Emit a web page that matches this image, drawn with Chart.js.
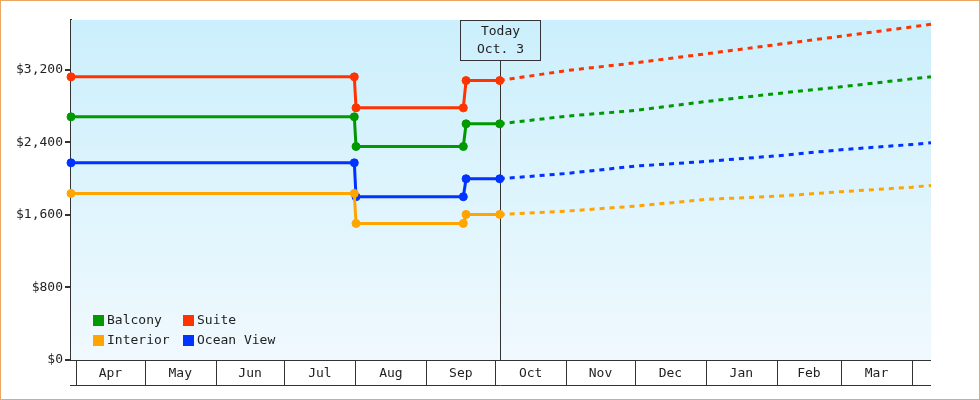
<!DOCTYPE html>
<html>
<head>
<meta charset="utf-8">
<script src="https://cdn.jsdelivr.net/npm/chart.js@4/dist/chart.umd.min.js"></script>
<style>
  body { margin: 0; background: #fff; }
  canvas { display: block; }
</style>
</head>
<body>
<canvas id="myChart" width="980" height="400"></canvas>
<script>
var monthLabels = ['Apr','May','Jun','Jul','Aug','Sep','Oct','Nov','Dec','Jan','Feb','Mar'];
var monthStarts = [0,30,61,91,122,153,183,214,244,275,306,334,365];
var xMin = -2.2, xMax = 373.3;
var yTicks = [0,800,1600,2400,3200];
var yMax = 3750;
var todayDay = 185;
var todayLabel = ['Today','Oct. 3'];

var seriesNames = ['Balcony','Suite','Interior','Ocean View'];
var seriesColors = ['#009900','#ff3300','#ffa500','#0033ff'];

var pastDays = [-2.2,121.5,122.25,169.1,170.3,185];
var balconyPast = [2682,2682,2355,2355,2605,2605];
var suitePast = [3123,3123,2781,2781,3082,3082];
var interiorPast = [1837,1837,1506,1506,1606,1606];
var oceanPast = [2175,2175,1801,1801,1999,1999];

var futureDays = [185,214,244,275,306,334,365,373.3];
var balconyFuture = [2605,2689,2752,2851,2939,3013,3101,3123];
var suiteFuture = [3082,3192,3277,3377,3479,3571,3674,3703];
var interiorFuture = [1606,1642,1697,1771,1807,1856,1906,1925];
var oceanFuture = [1999,2057,2138,2190,2252,2319,2377,2396];

var FONT = '13px "DejaVu Sans Mono", monospace';

function toPoints(days, values){
  var pts = [];
  for (var i = 0; i < days.length; i++) pts.push({x: days[i], y: values[i]});
  return pts;
}

function pastSet(name, color, values){
  return {
    label: name, data: toPoints(pastDays, values),
    borderColor: color, backgroundColor: color, borderWidth: 3,
    pointRadius: 4, pointBorderWidth: 1, pointHoverRadius: 4,
    tension: 0, clip: 6
  };
}

function futureSet(name, color, values){
  return {
    label: name + ' (projected)', data: toPoints(futureDays, values),
    borderColor: color, backgroundColor: color, borderWidth: 3,
    borderDash: [5,5], pointRadius: 0, tension: 0, clip: 6
  };
}

var decor = {
  id: 'decor',
  beforeDatasetsDraw: function(chart){
    var ctx = chart.ctx, a = chart.chartArea;
    var g = ctx.createLinearGradient(0, a.top, 0, a.bottom);
    g.addColorStop(0, '#cbeffc');
    g.addColorStop(1, '#f0f9fe');
    ctx.save();
    ctx.fillStyle = g;
    ctx.fillRect(a.left, a.top, a.right - a.left, a.bottom - a.top);

    // month row under the plot
    var xs = chart.scales.x;
    ctx.strokeStyle = '#333';
    ctx.lineWidth = 1;
    ctx.beginPath();
    ctx.moveTo(a.left, a.bottom + 0.5); ctx.lineTo(a.right, a.bottom + 0.5);
    ctx.moveTo(a.left - 1, a.bottom + 25.5); ctx.lineTo(a.right, a.bottom + 25.5);
    for (var i = 0; i < monthStarts.length; i++) {
      var px = Math.round(xs.getPixelForValue(monthStarts[i])) + 0.5;
      ctx.moveTo(px, a.bottom); ctx.lineTo(px, a.bottom + 25);
    }
    ctx.stroke();
    ctx.fillStyle = '#222';
    ctx.font = FONT;
    ctx.textAlign = 'center';
    ctx.textBaseline = 'middle';
    for (var j = 0; j < monthLabels.length; j++) {
      var mid = (xs.getPixelForValue(monthStarts[j]) + xs.getPixelForValue(monthStarts[j+1])) / 2;
      ctx.fillText(monthLabels[j], mid, a.bottom + 13.5);
    }

    // today marker
    var tx = Math.round(xs.getPixelForValue(todayDay)) + 0.5;
    ctx.beginPath();
    ctx.moveTo(tx, a.top + 40); ctx.lineTo(tx, a.bottom);
    ctx.stroke();
    ctx.strokeRect(tx - 40, a.top + 0.5, 80, 40);
    ctx.fillText(todayLabel[0], tx, a.top + 12);
    ctx.fillText(todayLabel[1], tx, a.top + 30);
    ctx.restore();
  },
  afterDraw: function(chart){
    var ctx = chart.ctx, a = chart.chartArea;
    ctx.save();
    // legend, two columns
    ctx.font = FONT;
    ctx.textAlign = 'left';
    ctx.textBaseline = 'middle';
    for (var i = 0; i < seriesNames.length; i++) {
      var col = i % 2, row = Math.floor(i / 2);
      var lx = a.left + 22 + col * 90;
      var ly = a.bottom - 45 + row * 20;
      ctx.fillStyle = seriesColors[i];
      ctx.fillRect(lx, ly, 11, 11);
      ctx.fillStyle = '#222';
      ctx.fillText(seriesNames[i], lx + 14, ly + 6);
    }
    ctx.strokeStyle = '#e9a864';
    ctx.lineWidth = 1;
    ctx.strokeRect(0.5, 0.5, chart.width - 1, chart.height - 1);
    ctx.restore();
  }
};

var ctx = document.getElementById('myChart').getContext('2d');
var chart = new Chart(ctx, {
  type: 'line',
  data: {
    datasets: [
      futureSet('Interior', seriesColors[2], interiorFuture),
      futureSet('Ocean View', seriesColors[3], oceanFuture),
      futureSet('Balcony', seriesColors[0], balconyFuture),
      futureSet('Suite', seriesColors[1], suiteFuture),
      pastSet('Interior', seriesColors[2], interiorPast),
      pastSet('Ocean View', seriesColors[3], oceanPast),
      pastSet('Balcony', seriesColors[0], balconyPast),
      pastSet('Suite', seriesColors[1], suitePast)
    ]
  },
  options: {
    responsive: false,
    animation: false,
    layout: { padding: { top: 20, right: 49, bottom: 40, left: 0 } },
    plugins: { legend: { display: false }, tooltip: { enabled: false } },
    scales: {
      x: { type: 'linear', min: xMin, max: xMax, display: false },
      y: {
        min: 0, max: yMax,
        afterBuildTicks: function(scale){
          scale.ticks = yTicks.map(function(v){ return {value: v}; });
        },
        afterFit: function(scale){ scale.width = 71; },
        border: { display: true, color: '#333', width: 2 },
        grid: { drawOnChartArea: false, color: '#333', lineWidth: 2, tickLength: 6 },
        ticks: {
          color: '#222', font: { family: '"DejaVu Sans Mono", monospace', size: 13 },
          padding: 2,
          callback: function(v){ return '$' + v.toLocaleString('en-US'); }
        }
      }
    }
  },
  plugins: [decor]
});
</script>
</body>
</html>
